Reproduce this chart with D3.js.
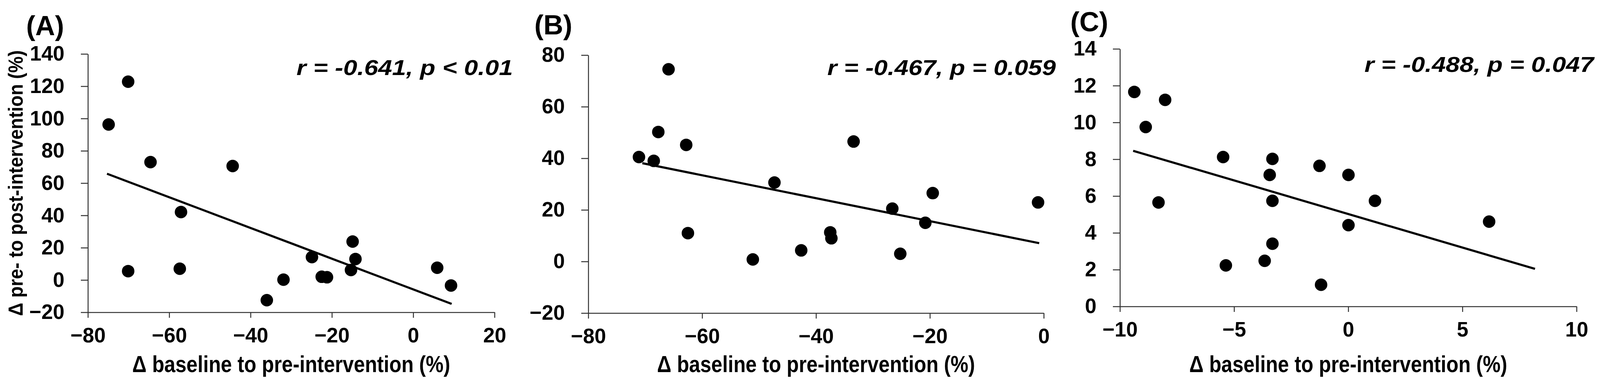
<!DOCTYPE html>
<html>
<head>
<meta charset="utf-8">
<script src="https://cdn.jsdelivr.net/npm/d3@7"></script>
<style>
  body { margin: 0; background: #fff; }
  text { font-family: "Liberation Sans", Arial, sans-serif; font-weight: bold; }
</style>
</head>
<body>
<script>
var w = 4105;
var h = 985;

// panel A
var aX = [-74.9, -70.1, -70.1, -64.6, -57.1, -57.4, -44.4, -36.0, -31.9, -24.9, -22.5, -21.2, -14.9, -15.3, -14.2, 5.9, 9.3];
var aY = [96.3, 122.8, 5.5, 73.0, 42.1, 7.0, 70.6, -12.5, 0.2, 14.2, 2.0, 1.7, 23.8, 6.2, 13.0, 7.6, -3.4];
var aFitX = [-75.3, 9.45];
var aFitY = [65.8, -14.8];
var aXTicks = [-80, -60, -40, -20, 0, 20];
var aYTicks = [-20, 0, 20, 40, 60, 80, 100, 120, 140];

// panel B
var bX = [-71.1, -68.5, -67.7, -65.9, -62.8, -62.5, -51.1, -47.3, -42.6, -37.5, -37.3, -33.4, -26.6, -25.2, -20.8, -19.5, -1.0];
var bY = [40.5, 39.0, 50.2, 74.5, 45.2, 11.0, 0.8, 30.6, 4.3, 11.3, 9.0, 46.5, 20.5, 3.0, 15.0, 26.5, 22.9];
var bFitX = [-70.5, -0.8];
var bFitY = [38.1, 7.1];
var bXTicks = [-80, -60, -40, -20, 0];
var bYTicks = [-20, 0, 20, 40, 60, 80];

// panel C
var cX = [-9.37, -8.02, -8.87, -8.31, -5.48, -5.36, -3.66, -3.44, -3.32, -3.32, -3.32, -1.26, -1.19, 0.01, 0.01, 1.17, 6.17];
var cY = [11.66, 11.23, 9.75, 5.65, 8.12, 2.23, 2.48, 7.15, 8.02, 5.74, 3.41, 7.64, 1.18, 7.15, 4.42, 5.74, 4.61];
var cFitX = [-9.42, 8.18];
var cFitY = [8.46, 2.04];
var cXTicks = [-10, -5, 0, 5, 10];
var cYTicks = [0, 2, 4, 6, 8, 10, 12, 14];

var labels = ["(A)", "(B)", "(C)"];
var stats = ["r = -0.641, p < 0.01", "r = -0.467, p = 0.059", "r = -0.488, p = 0.047"];
var xTitle = "\u0394 baseline to pre-intervention (%)";
var yTitle = "\u0394 pre- to post-intervention (%)";

var panels = [
  {xs: aX, ys: aY, fx: aFitX, fy: aFitY, xt: aXTicks, yt: aYTicks, left: 225, right: 1266, top: 138, bottom: 799, lab: [67, 90], stat: [1313, 192], statW: 554},
  {xs: bX, ys: bY, fx: bFitX, fy: bFitY, xt: bXTicks, yt: bYTicks, left: 1506, right: 2672, top: 141, bottom: 801, lab: [1368, 88], stat: [2703, 192], statW: 585},
  {xs: cX, ys: cY, fx: cFitX, fy: cFitY, xt: cXTicks, yt: cYTicks, left: 2867, right: 4036, top: 125, bottom: 784, lab: [2740, 80], stat: [4080, 184], statW: 587}
];

var svg = d3.select("body")
  .append("svg")
  .attr("width", w)
  .attr("height", h);

panels.forEach(function(p, k) {
  var x = d3.scaleLinear()
    .domain(d3.extent(p.xt))
    .range([p.left, p.right]);
  var y = d3.scaleLinear()
    .domain(d3.extent(p.yt))
    .range([p.bottom, p.top]);

  var g = svg.append("g");

  // axes
  var xAxis = g.append("g")
    .attr("transform", "translate(0," + p.bottom + ")")
    .call(d3.axisBottom(x).tickValues(p.xt).tickSizeInner(14).tickSizeOuter(0).tickPadding(25));
  var yAxis = g.append("g")
    .attr("transform", "translate(" + p.left + ",0)")
    .call(d3.axisLeft(y).tickValues(p.yt).tickSizeInner(18).tickSizeOuter(0).tickPadding(42));

  [xAxis, yAxis].forEach(function(a) {
    a.selectAll("path, line").attr("stroke", "#333").attr("stroke-width", 2.5);
    a.selectAll("text").attr("font-size", 53).attr("fill", "#000")
      .attr("font-family", "Liberation Sans, Arial, sans-serif");
  });

  // trend line
  g.append("line")
    .attr("x1", x(p.fx[0])).attr("y1", y(p.fy[0]))
    .attr("x2", x(p.fx[1])).attr("y2", y(p.fy[1]))
    .attr("stroke", "#000")
    .attr("stroke-width", 5.5);

  // points
  g.selectAll("circle")
    .data(p.xs)
    .enter()
    .append("circle")
    .attr("cx", function(d) { return x(d); })
    .attr("cy", function(d, i) { return y(p.ys[i]); })
    .attr("r", 16)
    .attr("fill", "#000");

  // x title
  g.append("text")
    .attr("x", (p.left + p.right) / 2)
    .attr("y", 952)
    .attr("text-anchor", "middle")
    .attr("font-size", 60)
    .attr("textLength", 814)
    .attr("lengthAdjust", "spacingAndGlyphs")
    .text(xTitle);

  // panel letter
  g.append("text")
    .attr("x", p.lab[0])
    .attr("y", p.lab[1])
    .attr("font-size", 70)
    .text(labels[k]);

  // correlation
  g.append("text")
    .attr("x", p.stat[0] - p.statW)
    .attr("y", p.stat[1])
    .attr("font-size", 56)
    .attr("font-style", "italic")
    .attr("textLength", p.statW)
    .attr("lengthAdjust", "spacingAndGlyphs")
    .text(stats[k]);

  if (k === 0) {
    g.append("text")
      .attr("transform", "translate(58," + (p.top + p.bottom) / 2 + ") rotate(-90)")
      .attr("text-anchor", "middle")
      .attr("font-size", 52)
      .attr("textLength", 680)
      .attr("lengthAdjust", "spacingAndGlyphs")
      .text(yTitle);
  }
});
</script>
</body>
</html>
